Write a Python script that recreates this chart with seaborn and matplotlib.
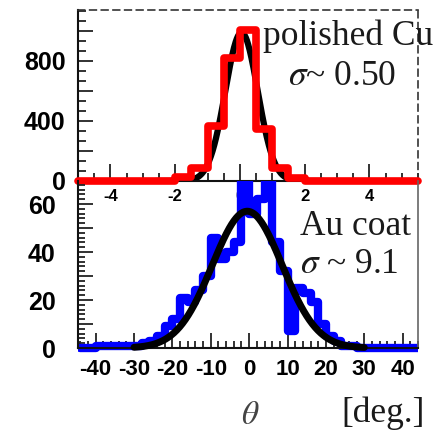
import numpy as np
import pandas as pd
import matplotlib
matplotlib.use("Agg")
import matplotlib.pyplot as plt
from matplotlib.ticker import FixedLocator, FixedFormatter, MultipleLocator
from matplotlib.transforms import Bbox, TransformedBbox
import seaborn as sns

# ---- polished Cu: angular distribution (0.5 deg bins) ----
cu_edges = [-5.0 + 0.5 * i for i in range(22)]
cu_counts = [0, 0, 0, 0, 0, 0, 30, 90, 365, 820, 1010, 345, 90, 20,
             0, 0, 0, 0, 0, 0, 0]
cu_sigma = 0.50
cu_mean = 0.05
cu_amp = 990

# ---- Au coat: angular distribution (2 deg bins) ----
au_edges = [-44 + 2 * i for i in range(45)]
au_counts = [0, 0, 1, 1, 1, 1, 1, 1, 2, 3, 5, 9, 12, 21, 19, 24, 30, 46,
             37, 40, 44, 78, 56, 62, 78, 44, 32, 7, 25, 23, 19, 10, 5, 3,
             1, 1, 0, 0, 0, 0, 0, 0, 0, 0]
au_sigma = 9.1
au_mean = -0.5
au_amp = 57

cu_yticks = [0, 200, 400, 600, 800, 1000]
cu_ylabels = ["0", "", "400", "", "800", ""]
cu_xticks = [-4, -2, 0, 2, 4]
cu_xlabels = ["-4", "-2", "0", "2", "4"]
au_yticks = [0, 10, 20, 30, 40, 50, 60]
au_ylabels = ["0", "", "20", "", "40", "", "60"]
au_xticks = [-40, -30, -20, -10, 0, 10, 20, 30, 40]
au_xlabels = ["-40", "-30", "-20", "-10", "0", "10", "20", "30", "40"]

sns.set_theme(style="white")
plt.rcParams["font.family"] = ["Liberation Sans", "DejaVu Sans"]
plt.rcParams["mathtext.fontset"] = "stix"
plt.rcParams["axes.unicode_minus"] = False

W, H = 437, 434
fig = plt.figure(figsize=(W / 100, H / 100), dpi=100)


def frac(x0, y0, x1, y1):
    return [x0 / W, 1 - y1 / H, (x1 - x0) / W, (y1 - y0) / H]


ax1 = fig.add_axes(frac(78, 10, 418, 181))
ax2 = fig.add_axes(frac(78, 181, 418, 348))
ax2.patch.set_alpha(0)

# ---------- upper panel ----------
gx = np.linspace(-2.6, 2.6, 300)
gy = cu_amp * np.exp(-0.5 * ((gx - cu_mean) / cu_sigma) ** 2)
sns.lineplot(x=gx, y=gy, ax=ax1, color="black", lw=4.5, zorder=2)
e = np.asarray(cu_edges)
cu_df = pd.DataFrame({"theta": 0.5 * (e[:-1] + e[1:]), "count": cu_counts})
sns.histplot(data=cu_df, x="theta", weights="count", bins=cu_edges,
             element="step", fill=False, color="#ff0000", lw=5.5, ax=ax1,
             zorder=3)
for art in ax1.lines[1:] + ax1.patches + ax1.collections:
    art.set_clip_on(False)
ax1.set_xlim(-5.0, 5.5)
ax1.set_ylim(0, 1140)
ax1.set_xlabel("")
ax1.set_ylabel("")
ax1.yaxis.set_major_locator(FixedLocator(cu_yticks))
ax1.yaxis.set_major_formatter(FixedFormatter(cu_ylabels))
ax1.yaxis.set_minor_locator(MultipleLocator(200 / 3))
ax1.xaxis.set_major_locator(FixedLocator(cu_xticks))
ax1.xaxis.set_major_formatter(FixedFormatter(cu_xlabels))
ax1.xaxis.set_minor_locator(MultipleLocator(0.5))
ax1.tick_params(axis="both", which="both", direction="in", color="#222222",
                width=1.3, bottom=True, left=True, top=False, right=False,
                labelcolor="black")
ax1.tick_params(axis="y", which="major", length=11, pad=9, labelsize=18)
ax1.tick_params(axis="y", which="minor", length=6)
ax1.tick_params(axis="x", which="major", length=12, pad=6, labelsize=12)
ax1.tick_params(axis="x", which="minor", length=6)
for lab in ax1.get_xticklabels() + ax1.get_yticklabels():
    lab.set_fontweight("bold")
for side in ["top", "right"]:
    ax1.spines[side].set_linestyle((0, (4, 3)))
    ax1.spines[side].set_color("#333333")
    ax1.spines[side].set_linewidth(1.2)
for side in ["left", "bottom"]:
    ax1.spines[side].set_color("#111111")
    ax1.spines[side].set_linewidth(1.5)

# ---------- lower panel ----------
e = np.asarray(au_edges)
au_df = pd.DataFrame({"theta": 0.5 * (e[:-1] + e[1:]), "count": au_counts})
sns.histplot(data=au_df, x="theta", weights="count", bins=au_edges,
             element="step", fill=False, color="#0000ff", lw=6, ax=ax2,
             zorder=2)
hx = np.linspace(-30, 30, 400)
hy = au_amp * np.exp(-0.5 * ((hx - au_mean) / au_sigma) ** 2)
sns.lineplot(x=hx, y=hy, ax=ax2, color="black", lw=5, zorder=3)
clip_box = TransformedBbox(Bbox([[0, -0.05], [1, 1]]), ax2.transAxes)
for art in ax2.lines + ax2.patches + ax2.collections:
    art.set_clip_box(clip_box)
ax2.set_xlim(-44.6, 44.0)
ax2.set_ylim(0, 69.6)
ax2.set_xlabel("")
ax2.set_ylabel("")
ax2.yaxis.set_major_locator(FixedLocator(au_yticks))
ax2.yaxis.set_major_formatter(FixedFormatter(au_ylabels))
ax2.yaxis.set_minor_locator(MultipleLocator(2))
ax2.xaxis.set_major_locator(FixedLocator(au_xticks))
ax2.xaxis.set_major_formatter(FixedFormatter(au_xlabels))
ax2.xaxis.set_minor_locator(MultipleLocator(2))
ax2.tick_params(axis="both", which="both", direction="in", color="#222222",
                width=1.3, bottom=True, left=True, top=False, right=False,
                labelcolor="black")
ax2.tick_params(axis="y", which="major", length=11, pad=16, labelsize=18)
ax2.tick_params(axis="y", which="minor", length=5)
ax2.tick_params(axis="x", which="major", length=11, pad=8, labelsize=16)
ax2.tick_params(axis="x", which="minor", length=5)
for lab in ax2.get_xticklabels() + ax2.get_yticklabels():
    lab.set_fontweight("bold")
ax2.spines["top"].set_visible(False)
ax2.spines["right"].set_color("#666666")
ax2.spines["right"].set_linewidth(1.2)
for side in ["left", "bottom"]:
    ax2.spines[side].set_color("#111111")
    ax2.spines[side].set_linewidth(1.5)

# ---------- annotations ----------
serif = dict(family="Liberation Serif", size=25.5, color="#1a1a1a")
fig.text(263 / W, 1 - 45 / H, "polished Cu", ha="left", va="baseline", **serif)
fig.text(288 / W, 1 - 85 / H, r"$\sigma$~ 0.50", ha="left", va="baseline", **serif)
fig.text(300 / W, 1 - 235 / H, "Au coat", ha="left", va="baseline", **serif)
fig.text(300 / W, 1 - 273 / H, r"$\sigma$ ~ 9.1", ha="left", va="baseline", **serif)
fig.text(250 / W, 1 - 424 / H, r"$\theta$", ha="center", va="baseline",
         family="Liberation Serif", size=24, color="#444444")
fig.text(383 / W, 1 - 422 / H, "[deg.]", ha="center", va="baseline", **serif)

fig.savefig("out.png", dpi=100)
